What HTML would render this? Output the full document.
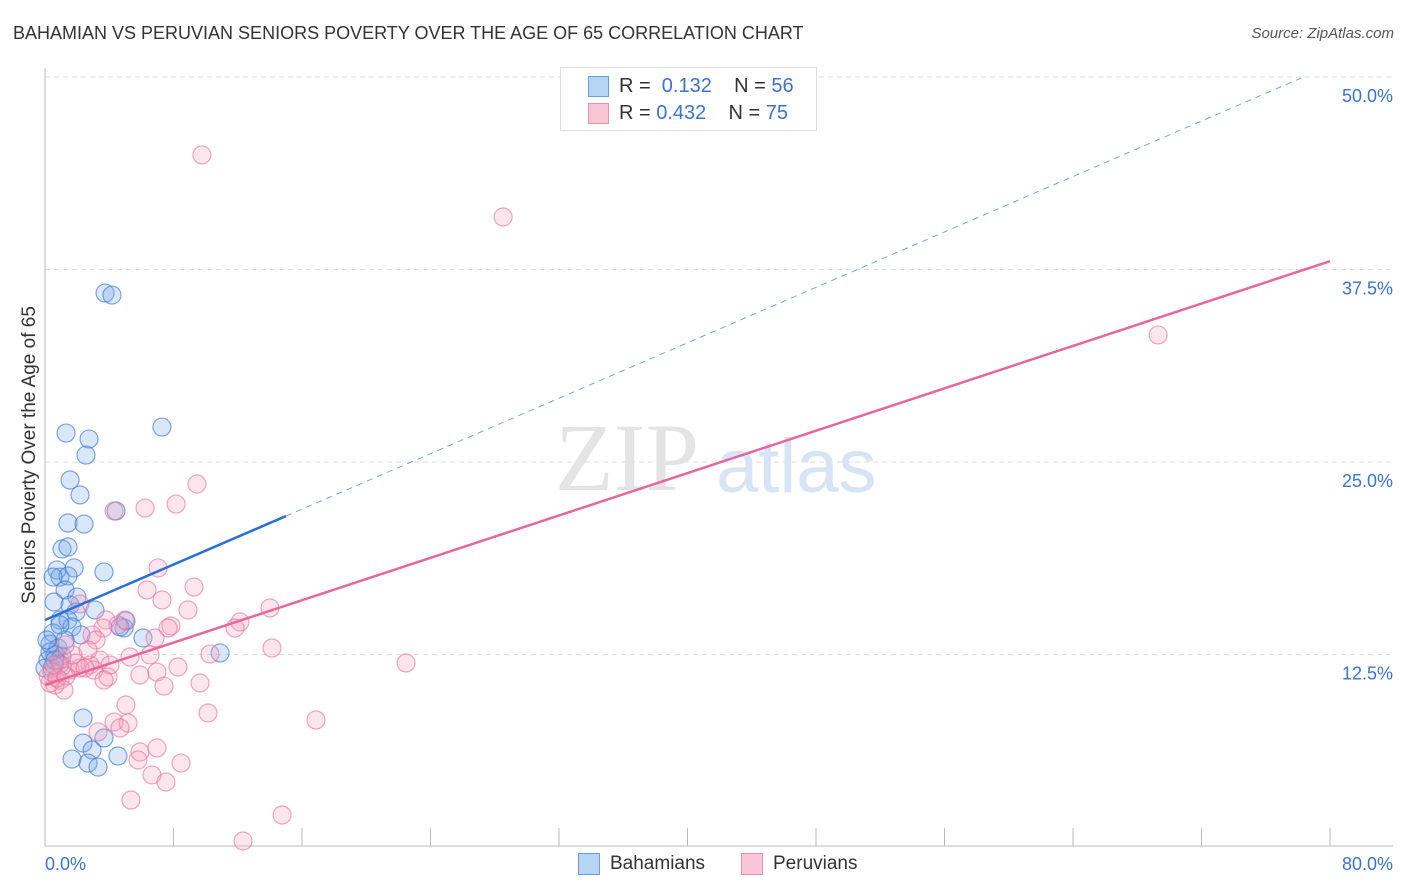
<!DOCTYPE html>
<html><head><meta charset="utf-8"><style>
body{margin:0;background:#fff;font-family:"Liberation Sans",sans-serif;}
#wrap{position:relative;width:1406px;height:892px;overflow:hidden}
.t{position:absolute;white-space:nowrap}
</style></head><body>
<div id="wrap">
<div class="t" style="left:13px;top:23px;font-size:18px;color:#333">BAHAMIAN VS PERUVIAN SENIORS POVERTY OVER THE AGE OF 65 CORRELATION CHART</div>
<div class="t" style="right:12px;top:25px;font-size:15px;color:#555;font-style:italic">Source: ZipAtlas.com</div>
<div class="t" style="left:-130px;top:444px;width:320px;text-align:center;transform:rotate(-90deg);font-size:19px;color:#333">Seniors Poverty Over the Age of 65</div>
<svg id="svg" width="1406" height="892" style="position:absolute;left:0;top:0"></svg>
<div class="t" style="left:560px;top:67px;width:255px;height:62px;border:1px solid #ddd;background:#fff">
 <div style="position:absolute;left:27px;top:8px;width:19px;height:19px;background:#b8d4f5;border:1px solid #6a9ce0"></div>
 <div class="t" style="left:58px;top:7px;font-size:20px;color:#333">R = <span style="color:#3b73d1">&nbsp;0.132</span>&nbsp;&nbsp;&nbsp; N = <span style="color:#3b73d1">56</span></div>
 <div style="position:absolute;left:27px;top:35px;width:19px;height:19px;background:#f9c6d6;border:1px solid #e890ae"></div>
 <div class="t" style="left:58px;top:34px;font-size:20px;color:#333">R = <span style="color:#3b73d1">0.432</span>&nbsp;&nbsp;&nbsp; N = <span style="color:#3b73d1">75</span></div>
</div>
<div class="t" style="left:578px;top:853px;width:20px;height:20px;background:#b8d4f5;border:1px solid #6a9ce0"></div>
<div class="t" style="left:610px;top:853px;font-size:19px;color:#333">Bahamians</div>
<div class="t" style="left:741px;top:853px;width:20px;height:20px;background:#f9c6d6;border:1px solid #e890ae"></div>
<div class="t" style="left:773px;top:853px;font-size:19px;color:#333">Peruvians</div>
</div>
<script>
const blueX=[3.74,4.17,1.31,2.74,7.28,2.55,1.56,2.18,4.42,1.43,2.43,1.06,1.43,3.67,1.81,0.75,0.93,1.43,0.50,1.25,1.99,0.56,1.56,1.93,0.93,1.43,1.68,2.24,5.04,4.92,6.10,0.50,0.31,0.81,0.62,1.06,0.19,0.44,10.90,2.37,2.37,2.93,3.67,1.68,2.68,3.30,4.54,0.93,0.31,0.00,1.25,0.93,0.62,4.67,3.11,0.12];
const blueY=[35.97,35.84,26.88,26.49,27.27,25.45,23.83,22.86,21.82,21.04,20.97,19.35,19.48,17.86,18.12,17.99,17.53,17.60,17.53,16.69,16.23,15.91,15.71,15.26,14.74,14.74,14.29,13.77,14.68,14.22,13.57,13.90,13.18,12.92,12.47,12.40,12.14,11.62,12.60,8.38,6.75,6.30,7.08,5.71,5.45,5.19,5.91,11.88,12.66,11.62,13.44,14.42,12.14,14.29,15.39,13.44];
const pinkX=[9.77,28.52,69.30,9.46,8.16,6.23,4.30,7.04,9.28,6.35,7.28,8.90,2.18,14.01,12.14,11.83,7.84,7.66,4.98,4.54,3.80,3.61,2.93,3.18,6.85,14.13,10.27,5.29,6.54,3.42,2.80,2.18,1.56,1.93,0.93,1.06,8.28,6.97,5.91,3.92,0.93,0.62,0.31,0.19,0.44,0.75,1.31,7.41,9.65,22.48,5.04,10.15,16.87,4.30,5.17,4.67,3.30,5.91,5.79,6.97,6.66,8.47,7.53,5.35,12.33,14.76,1.18,2.49,4.05,3.05,1.74,2.68,1.25,3.67,0.56];
const pinkY=[44.94,40.91,33.25,23.57,22.27,22.01,21.82,18.12,16.88,16.69,16.04,15.39,15.78,15.52,14.61,14.22,14.35,14.22,14.74,14.42,14.74,14.22,13.77,13.44,13.57,12.92,12.53,12.34,12.47,12.14,11.82,11.62,11.49,11.95,12.14,11.75,11.69,11.36,11.17,11.04,10.84,10.52,10.65,11.10,11.36,10.97,11.10,10.45,10.65,11.95,9.22,8.70,8.25,8.12,8.05,7.73,7.47,6.17,5.65,6.43,4.68,5.45,4.22,3.05,0.39,2.08,10.19,11.62,11.82,11.49,12.47,12.79,13.12,10.84,11.82];
const yTicks=[12.5,25,37.5,50];
const yTickLabels=["12.5%","25.0%","37.5%","50.0%"];
const xTicks=[0,8,16,24,32,40,48,56,64,72,80];
const blueTrend=[14.74,0.45];
const pinkTrend=[10.52,0.344];
const NS="http://www.w3.org/2000/svg";
const svg=document.getElementById('svg');
const X=v=>45+v/80*1285, Y=v=>847-v/50*770;
function mk(t,a,name){const e=document.createElementNS(NS,t);for(const k in a)e.setAttribute(k,a[k]);


svg.appendChild(e);return e;}
yTicks.forEach((v,i)=>{mk('line',{x1:45,x2:1393,y1:Y(v),y2:Y(v),stroke:'#ddd','stroke-dasharray':'5,4'},'y-gridline');
const t=mk('text',{x:1393,y:Y(v)+25,'text-anchor':'end','font-size':18,fill:'#3b73d1','font-family':'Liberation Sans'},'y-tick-label');t.textContent=yTickLabels[i];});
mk('line',{x1:45,x2:45,y1:68,y2:846,stroke:'#bbb'},'y-axis');
mk('line',{x1:45,x2:1393,y1:846,y2:846,stroke:'#bbb'},'x-axis');
xTicks.forEach(v=>mk('line',{x1:X(v),x2:X(v),y1:828,y2:846,stroke:'#bbb'},'x-tick'));
let t=mk('text',{x:45,y:870,'font-size':18,fill:'#3b73d1','font-family':'Liberation Sans'},'x-min-label');t.textContent='0.0%';
t=mk('text',{x:1393,y:870,'text-anchor':'end','font-size':18,fill:'#3b73d1','font-family':'Liberation Sans'},'x-max-label');t.textContent='80.0%';
t=mk('text',{x:555,y:490,'font-size':96,fill:'#e4e4e4','font-family':'Liberation Serif'},'watermark-zip');t.textContent='ZIP';
t=mk('text',{x:716,y:492,'font-size':76,fill:'#d6e4f5','font-family':'Liberation Sans'},'watermark-atlas');t.textContent='atlas';
blueX.forEach((x,i)=>mk('circle',{cx:X(x),cy:Y(blueY[i]),r:9,fill:'rgba(120,170,235,0.28)',stroke:'rgba(60,120,210,0.65)','stroke-width':1.2},'bahamian-point'));
pinkX.forEach((x,i)=>mk('circle',{cx:X(x),cy:Y(pinkY[i]),r:9,fill:'rgba(245,160,190,0.28)',stroke:'rgba(230,110,150,0.6)','stroke-width':1.2},'peruvian-point'));
const bf=x=>blueTrend[0]+blueTrend[1]*x, pf=x=>pinkTrend[0]+pinkTrend[1]*x;
mk('line',{x1:X(15),y1:Y(bf(15)),x2:X(78.4),y2:Y(bf(78.4)),stroke:'#7aa6e0','stroke-width':1,'stroke-dasharray':'6,5'},'bahamian-trend-extension');
mk('line',{x1:X(0),y1:Y(bf(0)),x2:X(15),y2:Y(bf(15)),stroke:'#2a6fd6','stroke-width':2.5},'bahamian-trend');
mk('line',{x1:X(0),y1:Y(pf(0)),x2:X(80),y2:Y(pf(80)),stroke:'#e8679a','stroke-width':2.5},'peruvian-trend');
</script>
</body></html>
